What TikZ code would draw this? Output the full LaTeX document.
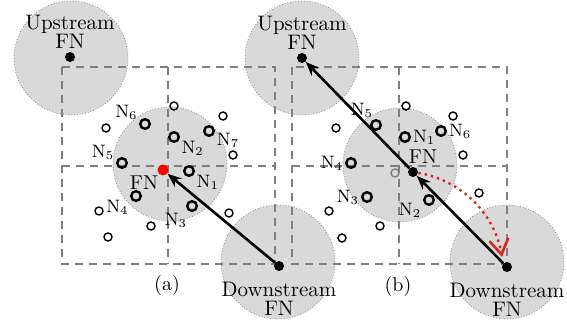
\documentclass[tikz,border=0pt]{standalone}
\usepackage{xcolor}
\usepackage{tikz}
\usetikzlibrary{arrows.meta, positioning}
\definecolor{zonefill}{HTML}{D9D9D9}
\definecolor{zoneedge}{HTML}{8A8A8A}
\definecolor{gridgray}{HTML}{7F7F7F}
\definecolor{pathred}{HTML}{E3211C}

\begin{document}
\begin{tikzpicture}[
  x=0.5pt, y=-0.5pt,
  font=\normalsize,
  zone/.style={circle, fill=zonefill, draw=zoneedge, densely dotted, thin,
               minimum size=57pt, inner sep=0pt},
  head/.style={circle, fill=black, minimum size=5pt, inner sep=0pt},
  member/.style={circle, draw, line width=1.2pt, minimum size=4.8pt, inner sep=0pt},
  idle/.style={circle, draw, line width=0.7pt, minimum size=4pt, inner sep=0pt},
  cell/.style={draw=gridgray, line width=0.9pt, dash pattern=on 4pt off 3pt},
  hop/.style={-{Stealth[length=7pt,width=5.5pt]}, line width=1.3pt},
  reroute/.style={-{Straight Barb[angle=64:9pt, line width=1.3pt]}, draw=pathred, dotted, line width=1.2pt},
  tag/.style={font=\small, inner sep=0.8pt},
  fntext/.style={align=center, font=\fontsize{10.5}{9.5}\selectfont, inner sep=0pt},
]
\useasboundingbox (0,0) rectangle (567,320);

% fog node zones
\node[zone] (zUpA) at (71,58) {};
\node[zone] (zMidA) at (170,164) {};
\node[zone] (zDownA) at (278,262) {};
\node[zone] (zUpB) at (302,58) {};
\node[zone] (zMidB) at (400,165) {};
\node[zone] (zDownB) at (507,262) {};

% grid cells
\draw[cell] (62,67) rectangle (275,264);
\draw[cell] (168,67) -- (168,264);
\draw[cell] (62,166) -- (275,166);
\draw[cell] (292,67) rectangle (507,264);
\draw[cell] (399,67) -- (399,264);
\draw[cell] (292,166) -- (507,166);

% panel (a)
\node[head] (upA) at (70,57) {};
\node[head, fill=red, minimum size=5.5pt] (fnA) at (163,170) {};
\node[head] (downA) at (279,266) {};
\node[fntext, above=1.5pt of upA] (upAtxt) {Upstream\\FN};
\node[fntext, below=5pt of downA] (downAtxt) {Downstream\\FN};
\node[tag, font=\normalsize, anchor=north east] (fnAtxt) at (160,174) {FN};

\node[member, label={[tag]156:N$_6$}] (a6) at (145,124) {};
\node[member, label={[tag]-22:N$_2$}] (a2) at (174,137) {};
\node[member, label={[tag]-5:N$_7$}] (a7) at (209,131) {};
\node[member, label={[tag]170:N$_5$}] (a5) at (122,163) {};
\node[member, label={[tag]-17:N$_1$}] (a1) at (189,171) {};
\node[member, label={[tag]205:N$_4$}] (a4) at (136,196) {};
\node[member, label={[tag]240:N$_3$}] (a3) at (192,206) {};

\node[idle] (ia1) at (174,106) {};
\node[idle] (ia2) at (106,128) {};
\node[idle] (ia3) at (223,116) {};
\node[idle] (ia4) at (233,155) {};
\node[idle] (ia5) at (99,211) {};
\node[idle] (ia6) at (151,226) {};
\node[idle] (ia7) at (229,213) {};
\node[idle] (ia8) at (108,237) {};

\draw[hop] (downA) -- (fnA);
\node (capA) at (167,285) {(a)};

% panel (b)
\node[head] (upB) at (302,58) {};
\node[head] (fnB) at (413,172) {};
\node[head] (downB) at (507,267) {};
\node[fntext, above=1.5pt of upB] (upBtxt) {Upstream\\FN};
\node[fntext, below=5pt of downB] (downBtxt) {Downstream\\FN};
\node[tag, font=\normalsize, anchor=south] (fnBtxt) at (423,166) {FN};

\node[member, label={[tag]100:N$_5$}] (b5) at (376,125) {};
\node[member, label={[tag]0:N$_1$}] (b1) at (405,137) {};
\node[member, label={[tag]0:N$_6$}] (b6) at (441,131) {};
\node[member, label={[tag]180:N$_4$}] (b4) at (351,163) {};
\node[member, label={[tag]180:N$_3$}] (b3) at (367,197) {};
\node[member, label={[tag]195:N$_2$}] (b2) at (429,200) {};

\node[idle] (ib1) at (406,106) {};
\node[idle] (ib2) at (453,116) {};
\node[idle] (ib3) at (463,155) {};
\node[idle] (ib4) at (336,128) {};
\node[idle, draw=gray] (ib5) at (395,173) {};
\node[idle] (ib6) at (479,193) {};
\node[idle] (ib7) at (329,211) {};
\node[idle] (ib8) at (380,226) {};
\node[idle] (ib9) at (342,238) {};

\coordinate (bendEnd) at (502,257);
\draw[hop] (downB) -- (fnB);
\draw[hop] (fnB) -- (upB);
\draw[reroute] (fnB) .. controls (460,180) and (494,212) .. (bendEnd);
\node (capB) at (398,286) {(b)};
\end{tikzpicture}
\end{document}
